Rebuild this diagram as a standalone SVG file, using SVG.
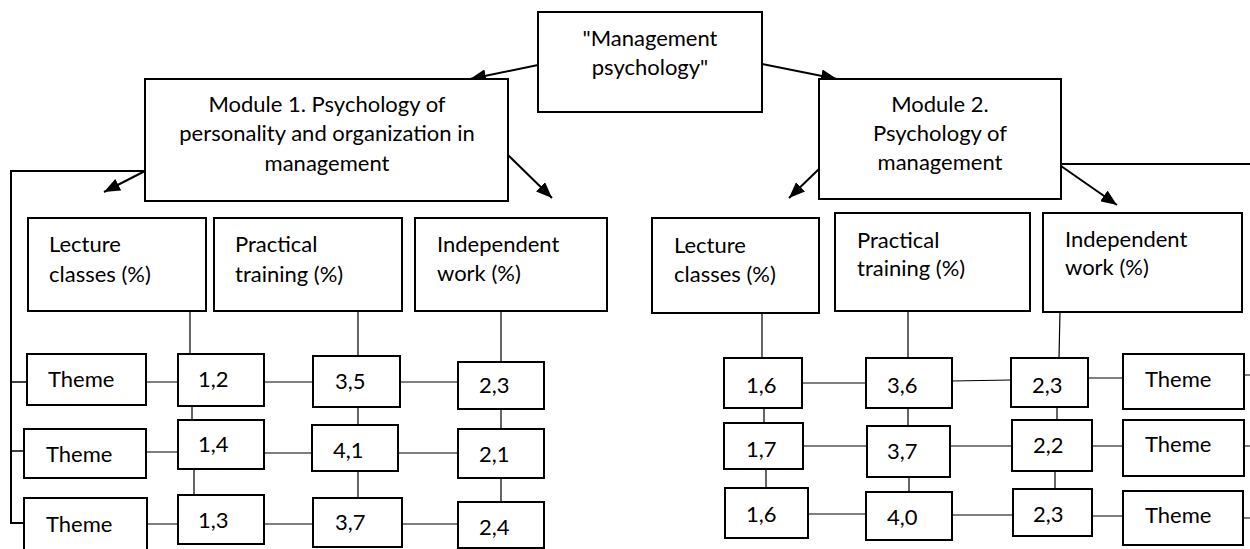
<svg xmlns="http://www.w3.org/2000/svg" width="1250" height="549" viewBox="0 0 1250 549">
<style>
.box{fill:#fff;stroke:#000;stroke-width:2}
.ln{stroke:#000;stroke-width:1.2;fill:none}
.arr{stroke:#000;stroke-width:2;fill:none;marker-end:url(#ah)}
.t{font-family:Lato,"Liberation Sans",sans-serif;font-size:22px;fill:#000}
.c{text-anchor:middle}
</style>
<defs>
<marker id="ah" markerUnits="userSpaceOnUse" markerWidth="17" markerHeight="13" refX="16" refY="6.5" orient="auto" viewBox="0 0 17 13">
<path d="M0,0 L16,6.5 L0,13 z" fill="#000"/>
</marker>
</defs>
<rect width="1250" height="549" fill="#fff"/>
<g id="connectors">
<line class="arr" x1="538" y1="65" x2="470" y2="79"/>
<line class="arr" x1="762" y1="64" x2="837" y2="79"/>
<line class="arr" x1="145" y1="171" x2="104" y2="192"/>
<line class="arr" x1="508" y1="155" x2="552" y2="198"/>
<line class="arr" x1="819" y1="169" x2="789" y2="198"/>
<line class="arr" x1="1061" y1="166" x2="1117" y2="205"/>
<path class="ln" style="stroke-width:2" d="M145,171 L11,171 L11,523 L24,523"/>
<path class="ln" style="stroke-width:1.5" d="M11,382 L27,382 M11,451 L24,451"/>
<path class="ln" style="stroke-width:2" d="M1061,164 L1250,164"/>
<path class="ln" d="M190,311 L190,354 M358,311 L358,356 M501,311 L501,362"/>
<path class="ln" d="M146,382 L178,382 M264,382 L313,382 M400,382 L458,382"/>
<path class="ln" d="M146,452 L178,452 M264,453 L312,453 M398,453 L458,453"/>
<path class="ln" d="M147,524 L178,524 M264,524 L313,524 M402,524 L458,524"/>
<path class="ln" d="M192,406 L192,420 M194,469 L194,495 M358,407 L358,425 M358,471 L358,498 M501,409 L501,429 M501,478 L501,502"/>
<path class="ln" d="M762,313 L762,358 M908,311 L908,358 M1060,311 L1059,358"/>
<path class="ln" d="M802,383 L866,383 M952,381 L1011,380 M1088,378 L1123,378 M1244,375 L1250,375"/>
<path class="ln" d="M803,446 L867,446 M950,446 L1012,446 M1092,446 L1123,446 M1244,446 L1250,446"/>
<path class="ln" d="M808,514 L866,514 M952,515 L1013,515 M1092,516 L1123,516 M1243,518 L1250,518"/>
<path class="ln" d="M764,408 L764,423 M766,469 L766,488 M908,408 L908,426 M909,477 L909,492 M1057,407 L1057,420 M1055,471 L1055,489"/>
</g>
<g id="root"><rect class="box" x="538" y="12" width="224" height="100"/>
<text class="t c" x="650" y="46">"Management</text><text class="t c" x="650" y="75">psychology"</text></g>
<g id="module1"><rect class="box" x="145" y="79" width="363" height="122"/>
<text class="t c" x="327" y="112">Module 1. Psychology of</text>
<text class="t c" x="327" y="141">personality and organization in</text>
<text class="t c" x="327" y="171">management</text></g>
<g id="module2"><rect class="box" x="819" y="79" width="242" height="120"/>
<text class="t c" x="940" y="112">Module 2.</text>
<text class="t c" x="940" y="141">Psychology of</text>
<text class="t c" x="940" y="170">management</text></g>
<g id="m1-lecture"><rect class="box" x="28" y="218" width="178" height="93"/>
<text class="t" x="49" y="252">Lecture</text><text class="t" x="49" y="282">classes (%)</text></g>
<g id="m1-practical"><rect class="box" x="214" y="218" width="188" height="93"/>
<text class="t" x="235" y="252">Practical</text><text class="t" x="235" y="282">training (%)</text></g>
<g id="m1-independent"><rect class="box" x="415" y="218" width="192" height="93"/>
<text class="t" x="437" y="252">Independent</text><text class="t" x="437" y="281">work (%)</text></g>
<g id="m2-lecture"><rect class="box" x="652" y="218" width="167" height="95"/>
<text class="t" x="674" y="253">Lecture</text><text class="t" x="674" y="282">classes (%)</text></g>
<g id="m2-practical"><rect class="box" x="835" y="213" width="195" height="98"/>
<text class="t" x="857" y="248">Practical</text><text class="t" x="857" y="276">training (%)</text></g>
<g id="m2-independent"><rect class="box" x="1043" y="213" width="199" height="99"/>
<text class="t" x="1065" y="247">Independent</text><text class="t" x="1065" y="275">work (%)</text></g>
<g id="m1-theme1"><rect class="box" x="27" y="354" width="119" height="51"/><text class="t" x="48" y="387">Theme</text></g>
<g id="m1-l1"><rect class="box" x="178" y="354" width="86" height="52"/><text class="t" x="198" y="387">1,2</text></g>
<g id="m1-p1"><rect class="box" x="313" y="356" width="87" height="51"/><text class="t" x="335" y="389">3,5</text></g>
<g id="m1-i1"><rect class="box" x="458" y="362" width="86" height="47"/><text class="t" x="479" y="393">2,3</text></g>
<g id="m1-theme2"><rect class="box" x="24" y="429" width="122" height="49"/><text class="t" x="46" y="462">Theme</text></g>
<g id="m1-l2"><rect class="box" x="178" y="420" width="86" height="49"/><text class="t" x="198" y="452">1,4</text></g>
<g id="m1-p2"><rect class="box" x="312" y="425" width="86" height="46"/><text class="t" x="333" y="458">4,1</text></g>
<g id="m1-i2"><rect class="box" x="458" y="429" width="86" height="49"/><text class="t" x="479" y="462">2,1</text></g>
<g id="m1-theme3"><rect class="box" x="24" y="498" width="123" height="62"/><text class="t" x="46" y="532">Theme</text></g>
<g id="m1-l3"><rect class="box" x="178" y="495" width="86" height="49"/><text class="t" x="198" y="528">1,3</text></g>
<g id="m1-p3"><rect class="box" x="313" y="498" width="89" height="49"/><text class="t" x="335" y="530">3,7</text></g>
<g id="m1-i3"><rect class="box" x="458" y="502" width="86" height="46"/><text class="t" x="479" y="535">2,4</text></g>
<g id="m2-l1"><rect class="box" x="724" y="358" width="78" height="50"/><text class="t" x="746" y="393">1,6</text></g>
<g id="m2-p1"><rect class="box" x="866" y="358" width="86" height="50"/><text class="t" x="887" y="393">3,6</text></g>
<g id="m2-i1"><rect class="box" x="1011" y="358" width="77" height="49"/><text class="t" x="1032" y="393">2,3</text></g>
<g id="m2-theme1"><rect class="box" x="1123" y="354" width="121" height="55"/><text class="t" x="1145" y="387">Theme</text></g>
<g id="m2-l2"><rect class="box" x="724" y="423" width="79" height="46"/><text class="t" x="746" y="457">1,7</text></g>
<g id="m2-p2"><rect class="box" x="867" y="426" width="83" height="51"/><text class="t" x="887" y="459">3,7</text></g>
<g id="m2-i2"><rect class="box" x="1012" y="420" width="80" height="51"/><text class="t" x="1033" y="453">2,2</text></g>
<g id="m2-theme2"><rect class="box" x="1123" y="420" width="121" height="56"/><text class="t" x="1145" y="452">Theme</text></g>
<g id="m2-l3"><rect class="box" x="725" y="488" width="83" height="50"/><text class="t" x="746" y="522">1,6</text></g>
<g id="m2-p3"><rect class="box" x="866" y="492" width="86" height="48"/><text class="t" x="887" y="525">4,0</text></g>
<g id="m2-i3"><rect class="box" x="1013" y="489" width="79" height="47"/><text class="t" x="1033" y="522">2,3</text></g>
<g id="m2-theme3"><rect class="box" x="1123" y="491" width="120" height="54"/><text class="t" x="1145" y="523">Theme</text></g>
</svg>
